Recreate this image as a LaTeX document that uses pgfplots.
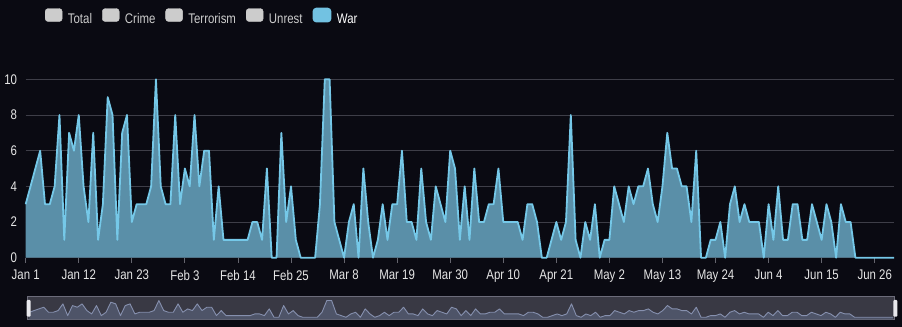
\documentclass[border=0pt]{standalone}
\usepackage{pgfplots}
\pgfplotsset{compat=1.18}
\usepackage{pgfplotstable}
\usepackage{fontspec}
\setmainfont{Liberation Sans}[FakeStretch=0.82]
\definecolor{bg}{HTML}{0A0A12}
\definecolor{gridc}{HTML}{3E3E48}
\definecolor{tickc}{HTML}{65656E}
\definecolor{labc}{HTML}{E6E6E6}
\definecolor{warline}{HTML}{75C8E8}
\definecolor{warfill}{HTML}{5A8FA8}
\definecolor{warbox}{HTML}{72C2E2}
\definecolor{inact}{HTML}{CCCCCC}
\definecolor{sliderbg}{HTML}{393944}
\definecolor{minifill}{HTML}{4E5468}
\definecolor{miniline}{HTML}{8690AE}
\definecolor{borderc}{HTML}{6C6C7A}
\definecolor{handlec}{HTML}{E8E8EC}

\pgfplotstableread{
d v
0 3
1 4
2 5
3 6
4 3
5 3
6 4
7 8
8 1
9 7
10 6
11 8
12 4
13 2
14 7
15 1
16 3
17 9
18 8
19 1
20 7
21 8
22 2
23 3
24 3
25 3
26 4
27 10
28 4
29 3
30 3
31 8
32 3
33 5
34 4
35 8
36 4
37 6
38 6
39 1
40 4
41 1
42 1
43 1
44 1
45 1
46 1
47 2
48 2
49 1
50 5
51 0
52 0
53 7
54 2
55 4
56 1
57 0
58 0
59 0
60 0
61 3
62 10
63 10
64 2
65 1
66 0
67 2
68 3
69 0
70 5
71 2
72 0
73 1
74 3
75 1
76 3
77 3
78 6
79 2
80 2
81 1
82 5
83 2
84 1
85 4
86 3
87 2
88 6
89 5
90 1
91 4
92 1
93 5
94 2
95 2
96 3
97 3
98 5
99 2
100 2
101 2
102 2
103 1
104 3
105 3
106 2
107 0
108 0
109 1
110 2
111 1
112 2
113 8
114 1
115 0
116 2
117 1
118 3
119 0
120 1
121 1
122 4
123 3
124 2
125 4
126 3
127 4
128 4
129 5
130 3
131 2
132 4
133 7
134 5
135 5
136 4
137 4
138 2
139 6
140 0
141 0
142 1
143 1
144 2
145 0
146 3
147 4
148 2
149 3
150 2
151 2
152 2
153 0
154 3
155 1
156 4
157 1
158 1
159 3
160 3
161 1
162 1
163 3
164 2
165 1
166 3
167 2
168 0
169 3
170 2
171 2
172 0
173 0
174 0
175 0
176 0
177 0
178 0
179 0
180 0
}\wardata

\begin{document}
\begin{tikzpicture}
\fill[bg] (0,0) rectangle (902bp,327bp);
\useasboundingbox (0,0) rectangle (902bp,327bp);
\begin{axis}[
  at={(25.7bp,69.3bp)}, anchor=south west,
  scale only axis, width=868.3bp, height=178.4bp,
  xmin=0, xmax=180, ymin=0, ymax=10,
  clip=false,
  axis line style={draw=none},
  ymajorgrids, grid style={gridc, line width=0.8bp},
  xtick={0,11,...,176},
  xticklabels={Jan 1, Jan 12, Jan 23, Feb 3, Feb 14, Feb 25, Mar 8, Mar 19, Mar 30, Apr 10, Apr 21, May 2, May 13, May 24, Jun 4, Jun 15, Jun 26},
  ytick={0,2,...,10},
  xtick pos=left, ytick pos=left,
  tick align=outside, major tick length=5bp,
  xtick style={draw=tickc, line width=0.8bp},
  ytick style={draw=none},
  /pgf/number format/assume math mode=true,
  tick label style={font=\fontsize{14}{16}\selectfont, text=labc},
  xticklabel style={yshift=-3.8bp},
  yticklabel style={inner sep=0pt, xshift=-3.4bp},
  legend style={
    at={(0.02223,1.352)}, anchor=west,
    draw=none, fill=none, inner sep=0pt, outer sep=0pt,
    legend columns=-1,
    nodes={inner sep=0pt, font=\fontsize{14}{16}\selectfont},
    /tikz/every odd column/.append style={column sep=5.5bp},
    /tikz/every even column/.append style={column sep=10bp},
  },
]
\addlegendimage{legend image code/.code={\fill[inact, rounded corners=3bp] (0bp,-2bp) rectangle (17bp,11bp);}}
\addlegendentry{\textcolor{inact}{Total}}
\addlegendimage{legend image code/.code={\fill[inact, rounded corners=3bp] (0bp,-2bp) rectangle (17bp,11bp);}}
\addlegendentry{\textcolor{inact}{Crime}}
\addlegendimage{legend image code/.code={\fill[inact, rounded corners=3bp] (0bp,-2bp) rectangle (17bp,11bp);}}
\addlegendentry{\textcolor{inact}{Terrorism}}
\addlegendimage{legend image code/.code={\fill[inact, rounded corners=3bp] (0bp,-2bp) rectangle (17bp,11bp);}}
\addlegendentry{\textcolor{inact}{Unrest}}
\addplot[draw=none, fill=warfill, forget plot] table[x=d, y=v] {\wardata} \closedcycle;
\addplot[warline, line width=1.8bp, line join=round,
  legend image code/.code={\fill[warbox, rounded corners=3bp] (0bp,-2bp) rectangle (17bp,11bp);}]
  table[x=d, y=v] {\wardata};
\addlegendentry{\textcolor{white}{War}}
\end{axis}

\begin{axis}[
  at={(27.3bp,7.7bp)}, anchor=south west,
  scale only axis, width=866.7bp, height=23.3bp,
  xmin=-0.42, xmax=180.21, ymin=-1.2, ymax=12.7,
  xtick=\empty, ytick=\empty,
  axis line style={draw=borderc, line width=0.8bp},
  axis background/.style={fill=sliderbg},
]
\addplot[draw=none, fill=minifill] table[x=d, y=v] {\wardata} |- (axis cs:0,-1.2) -- cycle;
\addplot[miniline, line width=0.9bp, line join=round] table[x=d, y=v] {\wardata};
\end{axis}
\fill[handlec, rounded corners=1bp] (26.7bp,10.3bp) rectangle (30.7bp,27bp);
\fill[handlec, rounded corners=1bp] (893.3bp,10.3bp) rectangle (897.3bp,27bp);
\end{tikzpicture}
\end{document}
